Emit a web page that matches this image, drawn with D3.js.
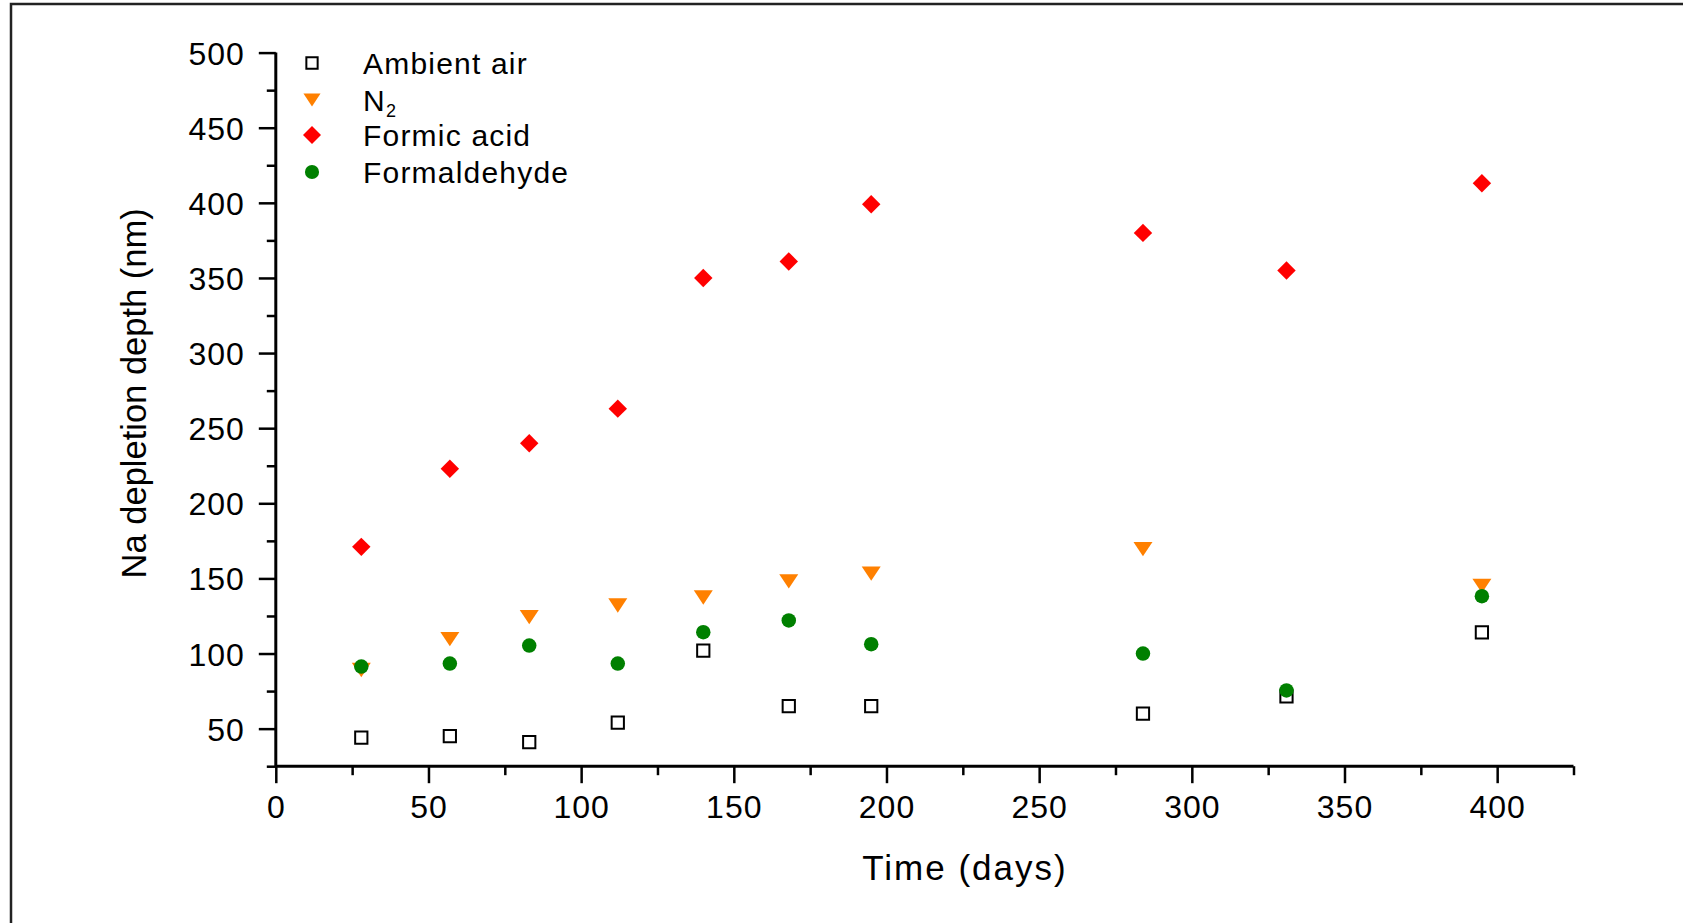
<!DOCTYPE html>
<html>
<head>
<meta charset="utf-8">
<script src="https://cdn.jsdelivr.net/npm/d3@7/dist/d3.min.js"></script>
<style>
  html, body { margin: 0; padding: 0; background: #fff; }
  svg { display: block; }
  text { font-family: "Liberation Sans", Arial, sans-serif; fill: #000; }
</style>
</head>
<body>
<svg id="chart" width="1683" height="923"></svg>
<script>
// ---- data ----
const days = [28, 57, 83, 112, 140, 168, 195, 284, 331, 395];
const ambientAir   = [44, 45, 41, 54, 102, 65, 65, 60, 71.4, 114];
const n2           = [89, 109.6, 124.2, 132, 137.3, 148, 153.2, 169.5, null, 145];
const formicAcid   = [171, 223, 240, 263, 350, 361, 399, 380, 355, 413];
const formaldehyde = [91.3, 93.3, 105.3, 93.3, 114.2, 122, 106.2, 100, 75.4, 138.2];
const seriesNames  = ["Ambient air", "N2", "Formic acid", "Formaldehyde"];
const xTicks = [0, 50, 100, 150, 200, 250, 300, 350, 400];
const yTicks = [50, 100, 150, 200, 250, 300, 350, 400, 450, 500];
const xTitle = "Time (days)";
const yTitle = "Na depletion depth (nm)";

// ---- layout ----
const svg = d3.select("#chart");
const x = d3.scaleLinear().domain([0, 425]).range([275.8, 1573.5]);
const y = d3.scaleLinear().domain([25, 500]).range([766.2, 52.6]);

// frame
svg.append("rect").attr("x", 11).attr("y", 4).attr("width", 1700).attr("height", 1000)
  .attr("fill", "none").attr("stroke", "#222").attr("stroke-width", 2.5);

// axes
const axisW = 3;
const gx = svg.append("g").attr("transform", `translate(0,${y(25)})`);
gx.call(d3.axisBottom(x).tickValues(d3.range(0, 426, 25)).tickSize(9).tickFormat(""));
gx.call(g => g.selectAll(".tick line").attr("stroke-width", 2.5));
gx.selectAll(".tick").filter(d => d % 50 === 0).select("line").attr("y2", 17);
gx.select(".domain").attr("stroke-width", axisW).attr("d", `M${x(0)},0H${x(425)}`);
gx.selectAll(".tick").filter(d => xTicks.includes(d)).append("text")
  .attr("y", 52).attr("text-anchor", "middle")
  .style("font-size", "32px").style("letter-spacing", "1px")
  .text(d => d);

const gy = svg.append("g").attr("transform", `translate(${x(0)},0)`);
gy.call(d3.axisLeft(y).tickValues(d3.range(25, 501, 25)).tickSize(9).tickFormat(""));
gy.call(g => g.selectAll(".tick line").attr("stroke-width", 2.5));
gy.selectAll(".tick").filter(d => d % 50 === 0).select("line").attr("x2", -17);
gy.select(".domain").attr("stroke-width", axisW).attr("d", `M0,${y(25)}V${y(500)}`);
gy.selectAll(".tick").filter(d => yTicks.includes(d)).append("text")
  .attr("x", -31).attr("dy", "0.36em").attr("text-anchor", "end")
  .style("font-size", "32px").style("letter-spacing", "1px")
  .text(d => d);

// titles
svg.append("text").attr("x", 965).attr("y", 880).attr("text-anchor", "middle")
  .style("font-size", "35px").style("letter-spacing", "2px").text(xTitle);
svg.append("text").attr("transform", `translate(146,${(193 + 540) / 2 * 1.0733}) rotate(-90)`)
  .attr("text-anchor", "middle").style("font-size", "34.5px").text(yTitle);

// ---- symbols ----
const sym = {
  square: { type: d3.symbolSquare, size: 150, fill: "#fff", stroke: "#000", sw: 2, rot: 0 },
  tri: {
    type: { draw(ctx, s) { const w = 9.5, h = 7.2; ctx.moveTo(-w, -h); ctx.lineTo(w, -h); ctx.lineTo(0, h); ctx.closePath(); } },
    size: 1, fill: "#FF8000", stroke: "none", sw: 0, rot: 0 },
  diamond: { type: d3.symbolSquare, size: 170, fill: "#FF0000", stroke: "none", sw: 0, rot: 45 },
  circle: { type: d3.symbolCircle, size: 165, fill: "#008000", stroke: "none", sw: 0, rot: 0 }
};
const symKeys = ["square", "tri", "diamond", "circle"];

function drawSeries(vals, key) {
  const s = sym[key];
  const pts = days.map((d, i) => ({ d, v: vals[i] })).filter(p => p.v != null);
  svg.append("g").selectAll("path").data(pts).join("path")
    .attr("d", d3.symbol().type(s.type).size(s.size))
    .attr("transform", p => `translate(${x(p.d)},${y(p.v)}) rotate(${s.rot})`)
    .attr("fill", s.fill).attr("stroke", s.stroke).attr("stroke-width", s.sw);
}
// draw order: triangles, diamonds, squares, circles on top
drawSeries(n2, "tri");
drawSeries(formicAcid, "diamond");
drawSeries(ambientAir, "square");
drawSeries(formaldehyde, "circle");

// ---- legend ----
const legY = [63, 100, 135, 172];
const leg = svg.append("g");
seriesNames.forEach((name, i) => {
  const s = sym[symKeys[i]];
  const sc = i === 0 ? 0.85 : 0.95;
  leg.append("path")
    .attr("d", d3.symbol().type(s.type).size(s.size * (s.size > 1 ? sc : 1))())
    .attr("transform", `translate(312,${legY[i]}) rotate(${s.rot})${i === 1 ? " scale(0.9)" : ""}`)
    .attr("fill", s.fill).attr("stroke", s.stroke).attr("stroke-width", s.sw);
  const t = leg.append("text").attr("x", 363).attr("y", legY[i]).attr("dy", "0.36em")
    .style("font-size", "30px").style("letter-spacing", "1.2px");
  if (name === "N2") {
    t.append("tspan").text("N");
    t.append("tspan").attr("dy", "0.35em").style("font-size", "18px").text("2");
  } else {
    t.text(name);
  }
});
</script>
</body>
</html>
